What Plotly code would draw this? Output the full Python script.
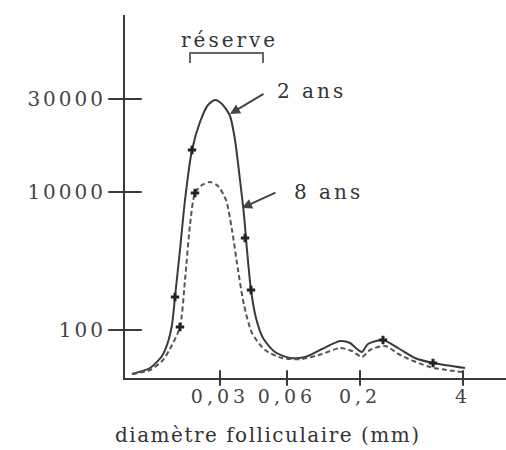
import plotly.graph_objects as go

# Axis positions (arbitrary, non-linear scales of the original figure)
x_tick_pos = [0.95, 1.62, 2.35, 3.38]
x_tick_labels = ["0,03", "0,06", "0,2", "4"]
y_tick_pos = [0.48, 1.86, 2.79]
y_tick_labels = ["100", "10000", "30000"]

# 2 ans (solid)
x_2ans = [0.07, 0.25, 0.37, 0.43, 0.47, 0.50, 0.55, 0.60, 0.67, 0.75, 0.83, 0.90, 0.97, 1.05,
          1.10, 1.15, 1.19, 1.22, 1.26, 1.31, 1.38, 1.50, 1.65, 1.80, 1.97, 2.15, 2.25, 2.32,
          2.37, 2.43, 2.58, 2.73, 2.90, 3.08, 3.40]
y_2ans = [0.04, 0.10, 0.22, 0.36, 0.53, 0.81, 1.28, 1.78, 2.28, 2.56, 2.73, 2.78, 2.74, 2.62,
          2.38, 1.98, 1.63, 1.28, 0.88, 0.60, 0.40, 0.26, 0.20, 0.21, 0.29, 0.37, 0.35, 0.29,
          0.26, 0.34, 0.38, 0.30, 0.20, 0.15, 0.10]
# 8 ans (dashed)
x_8ans = [0.07, 0.25, 0.38, 0.47, 0.55, 0.60, 0.65, 0.70, 0.77, 0.85, 0.93, 1.01, 1.07, 1.13,
          1.19, 1.27, 1.40, 1.57, 1.77, 1.97, 2.15, 2.27, 2.37, 2.45, 2.60, 2.77, 3.05, 3.37]
y_8ans = [0.04, 0.08, 0.18, 0.33, 0.51, 0.98, 1.53, 1.85, 1.93, 1.96, 1.92, 1.78, 1.48, 1.08,
          0.73, 0.45, 0.28, 0.20, 0.19, 0.24, 0.30, 0.27, 0.21, 0.28, 0.32, 0.22, 0.11, 0.06]

# measured points (markers)
mx_2ans = [0.50, 0.67, 1.20, 1.26, 2.58, 3.08]
my_2ans = [0.81, 2.28, 1.40, 0.88, 0.38, 0.15]
mx_8ans = [0.55, 0.70]
my_8ans = [0.51, 1.85]

INK = "#3a3a3a"
FONT = "DejaVu Serif"
TXT = dict(family=FONT, color="#333")


def spaced(text, px):
    return f'<span style="letter-spacing:{px}px">{text}</span>'


fig = go.Figure()
fig.add_trace(go.Scatter(x=x_2ans, y=y_2ans, mode="lines",
                         line=dict(color=INK, width=2, shape="spline", smoothing=0.7)))
fig.add_trace(go.Scatter(x=x_8ans, y=y_8ans, mode="lines",
                         line=dict(color="#555", width=2, dash="5px,3px", shape="spline", smoothing=0.7)))
fig.add_trace(go.Scatter(x=mx_2ans, y=my_2ans, mode="markers",
                         marker=dict(symbol="cross-thin", size=6, line=dict(color="#222", width=3))))
fig.add_trace(go.Scatter(x=mx_8ans, y=my_8ans, mode="markers",
                         marker=dict(symbol="cross-thin", size=6, line=dict(color="#222", width=3))))
# crossing tick marks drawn on the axes
fig.add_trace(go.Scatter(x=[0] * len(y_tick_pos), y=y_tick_pos, mode="markers", cliponaxis=False,
                         marker=dict(symbol="line-ew", size=24, line=dict(color=INK, width=2))))
fig.add_trace(go.Scatter(x=x_tick_pos, y=[0] * len(x_tick_pos), mode="markers", cliponaxis=False,
                         marker=dict(symbol="line-ns", size=11, line=dict(color=INK, width=2))))

xr = [0, 3.81]
yr = [0, 3.63]
fig.update_layout(
    width=506, height=450,
    margin=dict(l=125, r=0, t=15, b=72, autoexpand=False),
    paper_bgcolor="white", plot_bgcolor="white",
    showlegend=False,
    font=dict(family=FONT, color="#333", size=18),
    xaxis=dict(range=xr, showgrid=False, zeroline=False, showline=True, linecolor=INK, linewidth=2,
               automargin=False,
               tickmode="array", tickvals=x_tick_pos, ticktext=[spaced(t, 4) for t in x_tick_labels],
               ticks="", tickfont=dict(family=FONT, size=19, color="#444"), ticklabelstandoff=0),
    yaxis=dict(range=yr, showgrid=False, zeroline=False, showline=True, linecolor=INK, linewidth=2,
               automargin=False,
               tickmode="array", tickvals=y_tick_pos, ticktext=[spaced(t, 3) for t in y_tick_labels],
               ticks="", tickfont=dict(family=FONT, size=20, color="#444"), ticklabelstandoff=13),
)

# réserve bracket
fig.add_shape(type="path", xref="x", yref="y",
              path="M 0.65,3.15 L 0.65,3.25 L 1.38,3.25 L 1.38,3.15",
              line=dict(color="#666", width=2))
fig.add_annotation(x=1.04, y=3.38, xref="x", yref="y", text=spaced("réserve", 3), showarrow=False,
                   font=dict(size=20, **TXT))
fig.add_annotation(x=1.05, y=2.64, ax=1.40, ay=2.85, xref="x", yref="y", axref="x", ayref="y",
                   text="", showarrow=True, arrowhead=2, arrowsize=1, arrowwidth=2, arrowcolor="#444")
fig.add_annotation(x=1.50, y=2.87, xref="x", yref="y", text=spaced("2 ans", 3), showarrow=False,
                   xanchor="left", font=dict(size=20, **TXT))
fig.add_annotation(x=1.17, y=1.70, ax=1.52, ay=1.86, xref="x", yref="y", axref="x", ayref="y",
                   text="", showarrow=True, arrowhead=2, arrowsize=1, arrowwidth=2, arrowcolor="#444")
fig.add_annotation(x=1.67, y=1.86, xref="x", yref="y", text=spaced("8 ans", 3), showarrow=False,
                   xanchor="left", font=dict(size=20, **TXT))
fig.add_annotation(x=0.373, y=-0.157, xref="paper", yref="paper", xanchor="center", yanchor="middle",
                   text=spaced("diamètre folliculaire (mm)", 1.5),
                   showarrow=False, font=dict(size=20, **TXT))

fig.write_html("out.html", config={"displayModeBar": False},
               post_script="document.body.style.margin='0';document.body.style.overflow='hidden';")
